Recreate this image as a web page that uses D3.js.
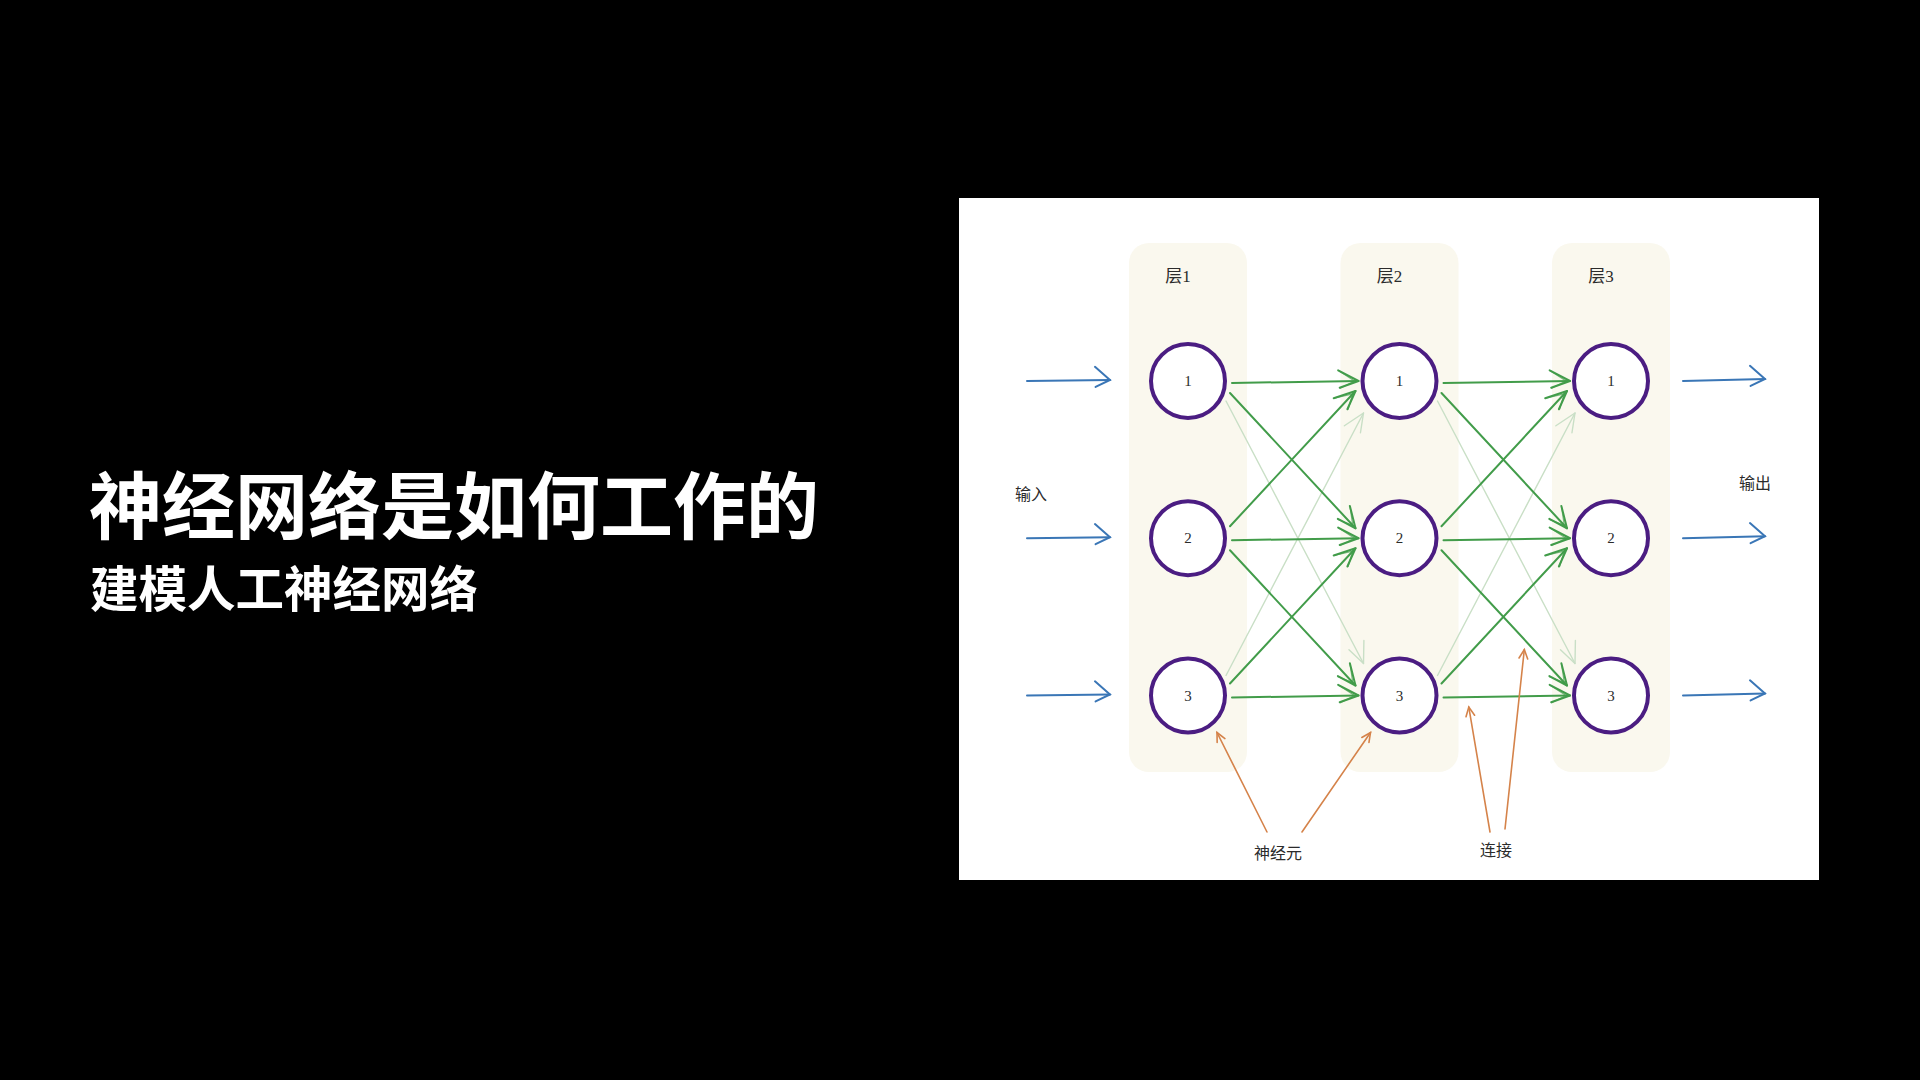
<!DOCTYPE html>
<html>
<head>
<meta charset="utf-8">
<script src="https://cdn.jsdelivr.net/npm/d3@7/dist/d3.min.js"></script>
<style>
  html, body { margin: 0; padding: 0; background: #000; }
  svg { display: block; }
</style>
</head>
<body>
<svg id="chart" width="1920" height="1080"></svg>
<script>
// ---------- data ----------
const titleText = "神经网络是如何工作的";
const subtitleText = "建模人工神经网络";
const layers = ["层1", "层2", "层3"];
const neurons = [1, 2, 3];
const strongLinks = [[1, 1], [1, 2], [2, 1], [2, 2], [2, 3], [3, 2], [3, 3]];
const faintLinks = [[1, 3], [3, 1]];
const inputLabel = "输入";
const outputLabel = "输出";
const neuronNoteLabel = "神经元";
const neuronNoteTargets = [["层1", 3, "right"], ["层2", 3, "left"]];
const linkNoteLabel = "连接";
const linkNoteTargets = [["层2", 3, 3, 0.2], ["层2", 2, 3, 0.66]];

// ---------- layout ----------
const svg = d3.select("#chart");
const x = d3.scalePoint().domain(layers).range([1188, 1611]);
const y = d3.scalePoint().domain(neurons).range([381, 695.5]);
const R = 37;

const C = {
  green: "#429c4a",
  faint: "#c9dfc6",
  purple: "#4b1d82",
  blue: "#3a76b6",
  orange: "#d5834a",
  beige: "#faf8ee",
  text: "#2b2b2b"
};

// chevron arrowhead path at tip (tx,ty) pointing with angle a
function chevron(tx, ty, a, len1, len2, spread1, spread2) {
  const p1 = [tx - len1 * Math.cos(a - spread1), ty - len1 * Math.sin(a - spread1)];
  const p2 = [tx - len2 * Math.cos(a + spread2), ty - len2 * Math.sin(a + spread2)];
  return `M${p1[0]},${p1[1]}L${tx},${ty}L${p2[0]},${p2[1]}`;
}

// title
svg.append("text")
  .attr("x", 89).attr("y", 533)
  .attr("fill", "#fff")
  .attr("font-family", "'Noto Sans CJK SC', sans-serif")
  .attr("font-weight", 700)
  .attr("font-size", 73)
  .text(titleText);
svg.append("text")
  .attr("x", 90).attr("y", 607)
  .attr("fill", "#fff")
  .attr("font-family", "'Noto Sans CJK SC', sans-serif")
  .attr("font-weight", 700)
  .attr("font-size", 48.5)
  .text(subtitleText);

// panel
svg.append("rect")
  .attr("x", 959).attr("y", 198).attr("width", 860).attr("height", 682)
  .attr("fill", "#fff");

// layer backgrounds
const layerW = 118;
svg.selectAll("rect.layer").data(layers).join("rect")
  .attr("class", "layer")
  .attr("x", d => x(d) - layerW / 2)
  .attr("y", 243)
  .attr("width", layerW)
  .attr("height", 529)
  .attr("rx", 20)
  .attr("fill", C.beige);

svg.selectAll("text.layerLabel").data(layers).join("text")
  .attr("class", "layerLabel")
  .attr("x", d => x(d) - 10)
  .attr("y", 282)
  .attr("text-anchor", "middle")
  .attr("font-family", "'Liberation Serif', 'Noto Sans CJK SC', serif")
  .attr("font-size", 17)
  .attr("fill", C.text)
  .text(d => d);

// link geometry
function linkPts(layer, from, to) {
  const li = layers.indexOf(layer);
  const next = layers[li + 1];
  const sx = x(layer), sy = y(from), ex = x(next), ey = y(to);
  const d = to - from, s = Math.sign(d);
  let p0, p1;
  if (d === 0) {
    p0 = [sx + 44, sy + 2]; p1 = [ex - 41, ey];
  } else if (Math.abs(d) === 1) {
    p0 = [sx + 42, sy + 12 * s]; p1 = [ex - 44, ey - 10 * s];
  } else {
    p0 = [sx + 38, sy + 20 * s]; p1 = [ex - 36, ey - 32 * s];
  }
  return [p0, p1];
}

const linkData = [];
layers.slice(0, -1).forEach(l => {
  faintLinks.forEach(([a, b]) => linkData.push({ layer: l, from: a, to: b, faint: true }));
  strongLinks.forEach(([a, b]) => linkData.push({ layer: l, from: a, to: b, faint: false }));
});

const gl = svg.append("g").attr("fill", "none").attr("stroke-linecap", "round").attr("stroke-linejoin", "round");
linkData.forEach(d => {
  const [p0, p1] = linkPts(d.layer, d.from, d.to);
  const a = Math.atan2(p1[1] - p0[1], p1[0] - p0[0]);
  const col = d.faint ? C.faint : C.green;
  const w = d.faint ? 1.4 : 2;
  gl.append("path")
    .attr("d", `M${p0[0]},${p0[1]}L${p1[0]},${p1[1]}`)
    .attr("stroke", col).attr("stroke-width", w);
  gl.append("path")
    .attr("d", chevron(p1[0], p1[1], a, 20, 23, 0.33, 0.5))
    .attr("stroke", col).attr("stroke-width", w);
  if (!d.faint) {
    gl.append("path")
      .attr("d", chevron(p1[0] - 4 * Math.cos(a), p1[1] - 4 * Math.sin(a), a, 16, 18, 0.45, 0.6))
      .attr("stroke", col).attr("stroke-width", 1.2).attr("opacity", 0.7);
  }
});

// neurons
neurons.forEach(n => {
  layers.forEach(l => {
    svg.append("circle")
      .attr("cx", x(l)).attr("cy", y(n)).attr("r", R)
      .attr("fill", "#fff")
      .attr("stroke", C.purple).attr("stroke-width", 4);
    svg.append("text")
      .attr("x", x(l)).attr("y", y(n) + 5)
      .attr("text-anchor", "middle")
      .attr("font-family", "'Liberation Serif', serif")
      .attr("font-size", 15)
      .attr("fill", C.text)
      .text(n);
  });
});

// input / output arrows
const ga = svg.append("g").attr("fill", "none").attr("stroke", C.blue)
  .attr("stroke-width", 2).attr("stroke-linecap", "round");
neurons.forEach(n => {
  const yy = y(n) - 1;
  const xi0 = x(layers[0]) - 161, xi1 = x(layers[0]) - 78;
  ga.append("path").attr("d", `M${xi0},${yy + 1}L${xi1},${yy}`);
  ga.append("path").attr("d", chevron(xi1, yy, 0, 16, 20, 0.45, 0.72));
  const last = layers[layers.length - 1];
  const xo0 = x(last) + 72, xo1 = x(last) + 154;
  ga.append("path").attr("d", `M${xo0},${yy + 1}L${xo1},${yy - 1}`);
  ga.append("path").attr("d", chevron(xo1, yy - 1, 0, 16, 20, 0.45, 0.72));
});

svg.append("text")
  .attr("x", 1031).attr("y", 500).attr("text-anchor", "middle")
  .attr("font-family", "'Noto Sans CJK SC', sans-serif").attr("font-size", 16)
  .attr("fill", C.text).text(inputLabel);
svg.append("text")
  .attr("x", 1755).attr("y", 489).attr("text-anchor", "middle")
  .attr("font-family", "'Noto Sans CJK SC', sans-serif").attr("font-size", 16)
  .attr("fill", C.text).text(outputLabel);

// annotations
const go = svg.append("g").attr("fill", "none").attr("stroke", C.orange)
  .attr("stroke-width", 1.6).attr("stroke-linecap", "round");
const neuronStarts = [[1267, 832], [1302, 832]];
neuronNoteTargets.forEach(([l, n, side], i) => {
  const s = side === "right" ? 1 : -1;
  const tx = x(l) + s * 29, ty = y(n) + 37;
  const [sx, sy] = neuronStarts[i];
  const a = Math.atan2(ty - sy, tx - sx);
  go.append("path").attr("d", `M${sx},${sy}L${tx},${ty}`);
  go.append("path").attr("d", chevron(tx, ty, a, 10, 10, 0.45, 0.45));
});
const linkStarts = [[1490, 832], [1505, 829]];
linkNoteTargets.forEach(([l, a0, b0, t], i) => {
  const [p0, p1] = linkPts(l, a0, b0);
  const tx = p0[0] + (p1[0] - p0[0]) * t;
  const ty = p0[1] + (p1[1] - p0[1]) * t + 10;
  const [sx, sy] = linkStarts[i];
  const a = Math.atan2(ty - sy, tx - sx);
  go.append("path").attr("d", `M${sx},${sy}L${tx},${ty}`);
  go.append("path").attr("d", chevron(tx, ty, a, 10, 10, 0.45, 0.45));
});

svg.append("text")
  .attr("x", 1278).attr("y", 859).attr("text-anchor", "middle")
  .attr("font-family", "'Noto Sans CJK SC', sans-serif").attr("font-size", 16)
  .attr("fill", C.text).text(neuronNoteLabel);
svg.append("text")
  .attr("x", 1496).attr("y", 856).attr("text-anchor", "middle")
  .attr("font-family", "'Noto Sans CJK SC', sans-serif").attr("font-size", 16)
  .attr("fill", C.text).text(linkNoteLabel);
</script>
</body>
</html>
